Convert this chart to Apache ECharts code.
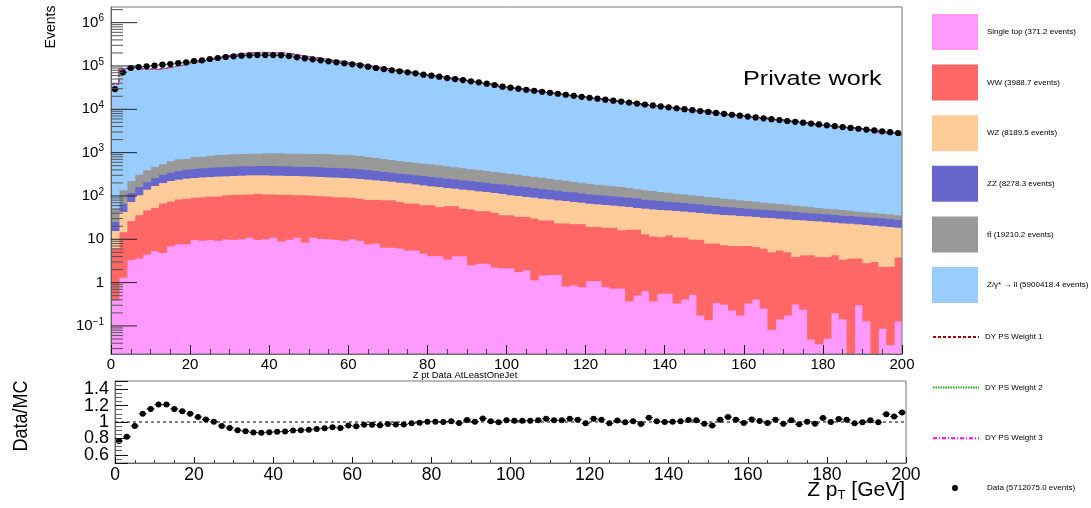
<!DOCTYPE html>
<html><head><meta charset="utf-8">
<script src="https://cdn.jsdelivr.net/npm/echarts@6/dist/echarts.min.js"></script>
<style>html,body{margin:0;padding:0;background:#fff}#c{width:1091px;height:508px}</style>
</head><body><div id="c"></div>
<script>
// ---------- data (2 GeV bins, 0-200 GeV) ----------
const binLow = Array.from({length: 100}, (_, i) => 2 * i);
const BIN_W = 2;

const singleTop = [0.40,1.34,3.4,3.7,4.6,5.5,5.0,7.1,7.9,7.9, 10,9.5,10,9.5,10.3,10,10.3,11.2,10,10.3, 11.2,9.2,10,11.2,8.7,11.2,10.5,10.3,10,9.5, 10.3,9.5,7.9,8.2,6.6,6.6,6.3,5.7,5.7,4.8, 4.2,4.2,3.5,4.2,4.2,2.6,2.8,2.8,2.3,2.2, 2.2,1.8,2.0,1.16,1.5,1.55,1.55,0.84,0.89,0.81, 1.12,1.12,0.81,0.75,0.75,0.38,0.52,0.66,0.38,0.57, 0.57,0.34,0.42,0.54,0.18,0.14,0.35,0.32,0.235,0.18, 0.34,0.42,0.26,0.084,0.146,0.18,0.32,0.245,0.050,0.039, 0.052,0.204,0.146,0,0.31,0.133,0,0.089,0.037,0.131];
const ww = [5.9,13.7,23.6,33.3,43.4,49.5,64,69.9,78.1,81.1, 84,86.5,90,90.5,96.7,100,99.7,100.8,106,101.7, 100.8,100.8,100,95.8,98.3,93.8,91.5,89.7,86,86.5, 83.7,79.5,76.1,75.8,75.4,75.4,68.7,63.3,63.3,58.2, 58.8,52.8,56.5,55.8,47.8,47.4,43.2,43.2,39.7,34.8, 34.8,32.2,32,29.8,26.5,26.5,22.5,23.2,22.1,22.2, 18.9,18.9,18.2,18.3,15.9,16.8,16.7,12.8,11.6,11.0, 12.1,11.0,10.9,9.6,9.9,8.1,7.9,7.2,7.0,7.0, 6.9,6.4,6.0,5.1,5.55,5.0,3.7,4.15,4.35,3.96, 3.95,4.2,3.35,3.7,3.4,2.77,3.1,2.31,2.36,3.77];
const wz = [9.7,28.9,47.8,70,96,120,136,151,159,170, 174,181,183,188,186,188,193,197,193,197, 191,193,188,191,186,183,181,177,177,172, 169,165,161,153,146,138,134,133,122,118, 109,109,97,92,92,89,86,81,79,78, 70,69,63.5,63.2,61.3,58.1,57.7,54.9,51.8,49.2, 48.4,46.1,44.8,42.6,42.8,40.1,37.1,39,38.6,37.3, 35.3,35.1,33.5,33.1,31.6,32,30.6,30,29.6,28.3, 27.7,26.9,26.2,26.7,25.1,24.6,24.7,23.8,22.8,22.7, 21.8,20.5,20.5,19.9,19.1,19.1,18.1,18.1,17.4,15.2];
const zz = [9.8,24.5,46,59,69,93,115,128,144,159, 165,171,181,184,188,192,196,190,198,198, 204,196,201,192,197,193,189,187,183,180, 178,171,165,152,141,136,128,124,118,117, 111,107,102,98,93,89,85,82,77,76, 74,69,68.5,62.8,59.7,57.9,55.3,50.1,50.2,45.8, 43.6,41.9,41.2,39.4,38.1,36.9,36.5,32.2,31.1,30, 28.2,27.1,26.2,25.2,24.4,22.5,21.6,20.8,19.5,18.8, 17.6,16.9,17.3,16.1,15.6,15.7,15.2,14.2,13.7,13.5, 13,12.6,12.2,11.9,11.5,11.1,11.3,10.9,10.5,10.1];
const ttbar = [26,71,107,154,190,213,235,294,334,332, 386,385,415,438,446,454,461,478,470,488, 488,496,478,487,487,479,488,480,471,462, 454,438,409,387,367,342,325,302,297,276, 272,253,240,222,211,197,193,180,171,165, 156,148,137,131,124,115,108,103,95,91, 86,80,76,71,68.5,62.8,56.2,54.3,52.3,48.1, 46.8,42.5,41,38.6,36.9,34.8,33.8,31,29.8,27.4, 26.4,25.6,22.4,21.7,20.9,19.4,17.7,17,16.4,14.1, 13.7,13.1,12.7,11.7,10.5,10.1,9.2,8.8,8.5,7.6];
const dyll = [38230,86810,94100,85680,84080,83350,87810,95040,102720,109520, 122110,129980,143440,159590,172670,184500,193640,200970,205360,203460, 202530,198210,188530,175020,164950,154280,145040,135700,129780,119380, 114190,106060,98770,92770,86460,81220,77020,71830,67540,62180, 58910,56070,51780,50140,45840,43600,39720,38300,36180,32290, 30720,29130,27560,26040,24220,23370,22170,20610,19730,19560, 17580,16910,16760,15370,14960,14050,13770,12130,12040,11510, 10920,10370,9700,9275,9203,8993,7941,7336,7210,7135, 6520,6347,6193,5689,5698,5210,5226,4831,4719,4211, 4217,3887,3745,3733,3529,3290,3221,2798,2742,2508];
const dataCounts = [29400,71300,89800,94600,98000,101600,107100,111000,117100,121300, 130300,135000,144900,152800,161100,166900,172800,176100,179100,179100, 179100,176100,169800,158400,150000,142200,134900,127900,121300,115000, 109100,103500,96400,89800,85100,79300,75200,71300,67600,63000, 59700,56600,52700,50000,47400,44200,41900,39000,36400,33300, 31550,29920,28310,26850,25470,24100,22860,21680,20510,19450, 18490,17580,16670,15850,15070,14320,13580,12910,12270,11640, 11090,10570,10050,9570,9120,8690,8260,7870,7500,7130, 6810,6500,6190,5920,5650,5380,5140,4910,4680,4470, 4270,4080,3900,3720,3560,3400,3250,3110,2970,2840];

const layerNames = ['Single top (371.2 events)', 'WW (3988.7 events)', 'WZ (8189.5 events)', 'ZZ (8278.3 events)', 't\u0074\u0304 (19210.2 events)', 'Z/\u03b3* \u2192 ll (5900418.4 events)'];
const layerColors = ['#ff99ff', '#ff6666', '#ffcc99', '#6666cc', '#999999', '#99ccff'];
const layerValues = [singleTop, ww, wz, zz, ttbar, dyll];
const lineNames = ['DY PS Weight 1', 'DY PS Weight 2', 'DY PS Weight 3'];
const dataName = 'Data (5712075.0 events)';

const xTickValues = [0, 20, 40, 60, 80, 100, 120, 140, 160, 180, 200];
const logMajorTicks = [0.1, 1, 10, 100, 1e3, 1e4, 1e5, 1e6];
const ratioTickLabels = ['0.6', '0.8', '1', '1.2', '1.4'];

// ---------- derived ----------
const YMIN = 0.0225, YMAX = 2.3e6;
const FONT = 'Liberation Sans, Arial, Helvetica, sans-serif';
const mcTotal = binLow.map((_, i) => layerValues.reduce((s, a) => s + a[i], 0));
const dyPsWeight1 = mcTotal.slice(), dyPsWeight2 = mcTotal.slice(), dyPsWeight3 = mcTotal.slice();
const ratio = dataCounts.map((d, i) => d / mcTotal[i]);
const ratioErr = dataCounts.map((d, i) => ratio[i] * Math.sqrt(2 / d));

const logMinorTicks = [];
for (let e = -2; e <= 6; e++) for (let m = 2; m <= 9; m++) { const v = m * Math.pow(10, e); if (v > YMIN && v < YMAX) logMinorTicks.push(v); }

const series = [];
let cum = binLow.map(() => 0);
layerValues.forEach((vals, k) => {
  const lo = cum.slice();
  const hi = cum.map((c, i) => c + vals[i]);
  cum = hi;
  const color = layerColors[k];
  series.push({
    type: 'custom', name: layerNames[k], xAxisIndex: 0, yAxisIndex: 0, z: 1, silent: true,
    itemStyle: {color},
    encode: {x: [0, 1], y: [2, 3]},
    data: binLow.map((x, i) => [x, x + BIN_W, Math.max(lo[i], YMIN), hi[i]]),
    renderItem(params, api) {
      const x0 = api.value(0), x1 = api.value(1);
      const l = Math.max(api.value(2), YMIN), h = Math.min(api.value(3), YMAX);
      if (!(h > l)) return null;
      const a = api.coord([x0, h]), b = api.coord([x1, l]);
      const right = api.coord([200, l])[0];
      const w = Math.min(b[0] + 0.6, right) - a[0];
      return {type: 'rect', shape: {x: a[0], y: a[1], width: w, height: b[1] - a[1] + (k > 0 ? 0.6 : 0)}, style: {fill: color}};
    }
  });
});

const stepPts = arr => { const p = []; binLow.forEach((x, i) => { p.push([x, arr[i]]); p.push([x + BIN_W, arr[i]]); }); return p; };
const lineStyles = [
  {color: '#aa0000', width: 1, type: [3, 2]},
  {color: '#22aa22', width: 1, type: [1.5, 1]},
  {color: '#ff00ff', width: 1, type: [4, 2, 1, 2]}
];
[dyPsWeight1, dyPsWeight2, dyPsWeight3].forEach((arr, k) => {
  series.push({type: 'line', name: lineNames[k], xAxisIndex: 0, yAxisIndex: 0, data: stepPts(arr), symbol: 'none', showSymbol: false, lineStyle: lineStyles[k], itemStyle: {color: lineStyles[k].color}, z: 4, silent: true});
});

// main data points
series.push({
  type: 'custom', name: dataName, xAxisIndex: 0, yAxisIndex: 0, z: 6, silent: true,
  itemStyle: {color: '#000'},
  encode: {x: 0, y: 1},
  data: binLow.map((x, i) => [x + BIN_W / 2, dataCounts[i]]),
  renderItem(params, api) {
    const xc = api.value(0), y = api.value(1);
    const p = api.coord([xc, y]), l = api.coord([xc - BIN_W / 2, y]), r = api.coord([xc + BIN_W / 2, y]);
    return {type: 'group', children: [
      {type: 'line', shape: {x1: l[0], y1: p[1], x2: r[0], y2: p[1]}, style: {stroke: '#000', lineWidth: 1}},
      {type: 'circle', shape: {cx: p[0], cy: p[1], r: 3.1}, style: {fill: '#000'}}
    ]};
  }
});

// log axis ticks (major + minor), drawn inward from the left axis
series.push({
  type: 'custom', name: 'ticks', xAxisIndex: 0, yAxisIndex: 0, z: 12, silent: true,
  encode: {x: 0, y: 1},
  data: logMajorTicks.map(v => [0, v, 26]).concat(logMinorTicks.map(v => [0, v, 12])),
  renderItem(params, api) {
    const p = api.coord([0, api.value(1)]); const len = api.value(2);
    return {type: 'line', shape: {x1: p[0], y1: p[1], x2: p[0] + len, y2: p[1]}, style: {stroke: len > 20 ? '#222' : '#555', lineWidth: 1}};
  }
});

// ratio reference line
series.push({type: 'line', name: 'unity', xAxisIndex: 1, yAxisIndex: 1, data: [[0, 1], [200, 1]], symbol: 'none', lineStyle: {color: '#000', width: 1, type: [3, 3]}, z: 3, silent: true});

// ratio points
series.push({
  type: 'custom', name: 'ratio', xAxisIndex: 1, yAxisIndex: 1, z: 6, silent: true,
  encode: {x: 0, y: 1},
  data: binLow.map((x, i) => [x + BIN_W / 2, ratio[i], ratioErr[i]]),
  renderItem(params, api) {
    const xc = api.value(0), y = api.value(1), e = api.value(2);
    const p = api.coord([xc, y]), l = api.coord([xc - BIN_W / 2, y]), r = api.coord([xc + BIN_W / 2, y]);
    const t = api.coord([xc, y + e]), b = api.coord([xc, y - e]);
    return {type: 'group', children: [
      {type: 'line', shape: {x1: l[0], y1: p[1], x2: r[0], y2: p[1]}, style: {stroke: '#000', lineWidth: 1}},
      {type: 'line', shape: {x1: p[0], y1: t[1], x2: p[0], y2: b[1]}, style: {stroke: '#000', lineWidth: 1}},
      {type: 'circle', shape: {cx: p[0], cy: p[1], r: 3}, style: {fill: '#000'}}
    ]};
  }
});

const fmtPow = v => {
  const e = Math.round(Math.log10(v));
  if (e === 0) return '1';
  if (e === 1) return '10';
  return '10{sup|' + (e < 0 ? '\u2212' + (-e) : e) + '}';
};

const xAxisBase = (gi, fs, tickLen, minorLen, margin) => ({
  gridIndex: gi, type: 'value', min: 0, max: 200, interval: 20, z: 10,
  axisLine: {show: true, onZero: false, lineStyle: {color: '#666', width: 1}},
  axisTick: {show: true, inside: true, length: tickLen, lineStyle: {color: '#111'}},
  minorTick: {show: true, splitNumber: 4, length: minorLen, lineStyle: {color: '#444'}},
  splitLine: {show: false}, minorSplitLine: {show: false},
  axisLabel: {show: true, fontSize: fs, color: '#000', fontFamily: FONT, margin: margin,
    formatter: v => xTickValues.includes(v) ? String(v) : ''}
});

const legendText = {fontSize: 8, color: '#000', fontFamily: FONT};
const option = {
  animation: false,
  textStyle: {fontFamily: FONT},
  grid: [
    {left: 111, top: 7, width: 791, height: 347, show: true, borderColor: '#777', borderWidth: 1, backgroundColor: 'transparent', z: 9},
    {left: 115, top: 381, width: 791, height: 82, show: true, borderColor: '#777', borderWidth: 1, backgroundColor: 'transparent', z: 9}
  ],
  xAxis: [xAxisBase(0, 15, 9, 5, 3), xAxisBase(1, 17.5, 6, 3, 3)],
  yAxis: [
    {gridIndex: 0, type: 'log', logBase: 10, min: YMIN, max: YMAX, splitNumber: 5, z: 10,
      axisLine: {show: true, lineStyle: {color: '#666', width: 1}},
      axisTick: {show: false}, minorTick: {show: false}, splitLine: {show: false},
      axisLabel: {show: true, margin: 7, fontSize: 15, color: '#000', fontFamily: FONT,
        showMinLabel: false, showMaxLabel: false, formatter: fmtPow,
        rich: {sup: {fontSize: 10, color: '#000', fontFamily: FONT, padding: [0, 0, 8, 0]}}}},
    {gridIndex: 1, type: 'value', min: 0.5, max: 1.5, splitNumber: 5, z: 10,
      axisLine: {show: true, lineStyle: {color: '#666', width: 1}},
      axisTick: {show: true, inside: true, length: 13, lineStyle: {color: '#111'}},
      minorTick: {show: true, splitNumber: 4, length: 7, lineStyle: {color: '#666'}},
      splitLine: {show: false},
      axisLabel: {show: true, margin: 6, fontSize: 18, color: '#000', fontFamily: FONT,
        showMinLabel: false, showMaxLabel: false,
        formatter: v => { const s = String(+v.toFixed(2)); return ratioTickLabels.includes(s) ? s : ''; }}}
  ],
  legend: [
    {data: layerNames.map(n => ({name: n, icon: 'rect'})), orient: 'vertical', left: 932, top: 14, padding: 0,
      itemWidth: 46, itemHeight: 36, itemGap: 14.6, selectedMode: false,
      textStyle: Object.assign({padding: [0, 0, 0, 4]}, legendText)},
    {data: lineNames, orient: 'vertical', left: 932, top: 322.6, padding: 0,
      itemWidth: 46, itemHeight: 36, itemGap: 21.8, selectedMode: false,
      itemStyle: {opacity: 0, borderWidth: 0},
      textStyle: Object.assign({padding: [0, 0, 0, 1]}, legendText)},
    {data: [{name: dataName, icon: 'circle'}], orient: 'vertical', left: 952, top: 484, padding: 0,
      itemWidth: 6, itemHeight: 6, selectedMode: false,
      textStyle: Object.assign({padding: [0, 0, 0, 24]}, legendText)}
  ],
  graphic: [
    {type: 'text', x: 51, y: 27, rotation: Math.PI / 2, z: 20,
      style: {text: 'Events', fill: '#000', font: '14px ' + FONT, align: 'center', verticalAlign: 'middle'}},
    {type: 'text', x: 743, y: 79, scaleX: 1.2, z: 20,
      style: {text: 'Private work', fill: '#000', font: '21px ' + FONT, align: 'left', verticalAlign: 'middle'}},
    {type: 'text', x: 465, y: 375, z: 20,
      style: {text: 'Z pt Data AtLeastOneJet', fill: '#000', font: '9.5px ' + FONT, align: 'center', verticalAlign: 'middle'}},
    {type: 'text', x: 21, y: 416, rotation: Math.PI / 2, scaleX: 0.9, z: 20,
      style: {text: 'Data/MC', fill: '#000', font: '20px ' + FONT, align: 'center', verticalAlign: 'middle'}},
    {type: 'text', x: 905, y: 490, z: 20,
      style: {text: 'Z p{sub|T} [GeV]', fill: '#000', font: '21px ' + FONT, align: 'right', verticalAlign: 'middle',
        rich: {sub: {fontSize: 13, fill: '#000', fontFamily: FONT, padding: [10, 0, 0, 0]}}}}
  ],
  series
};

const chart = echarts.init(document.getElementById('c'), null, {renderer: 'canvas', width: 1091, height: 508});
chart.setOption(option);
</script>
</body></html>
